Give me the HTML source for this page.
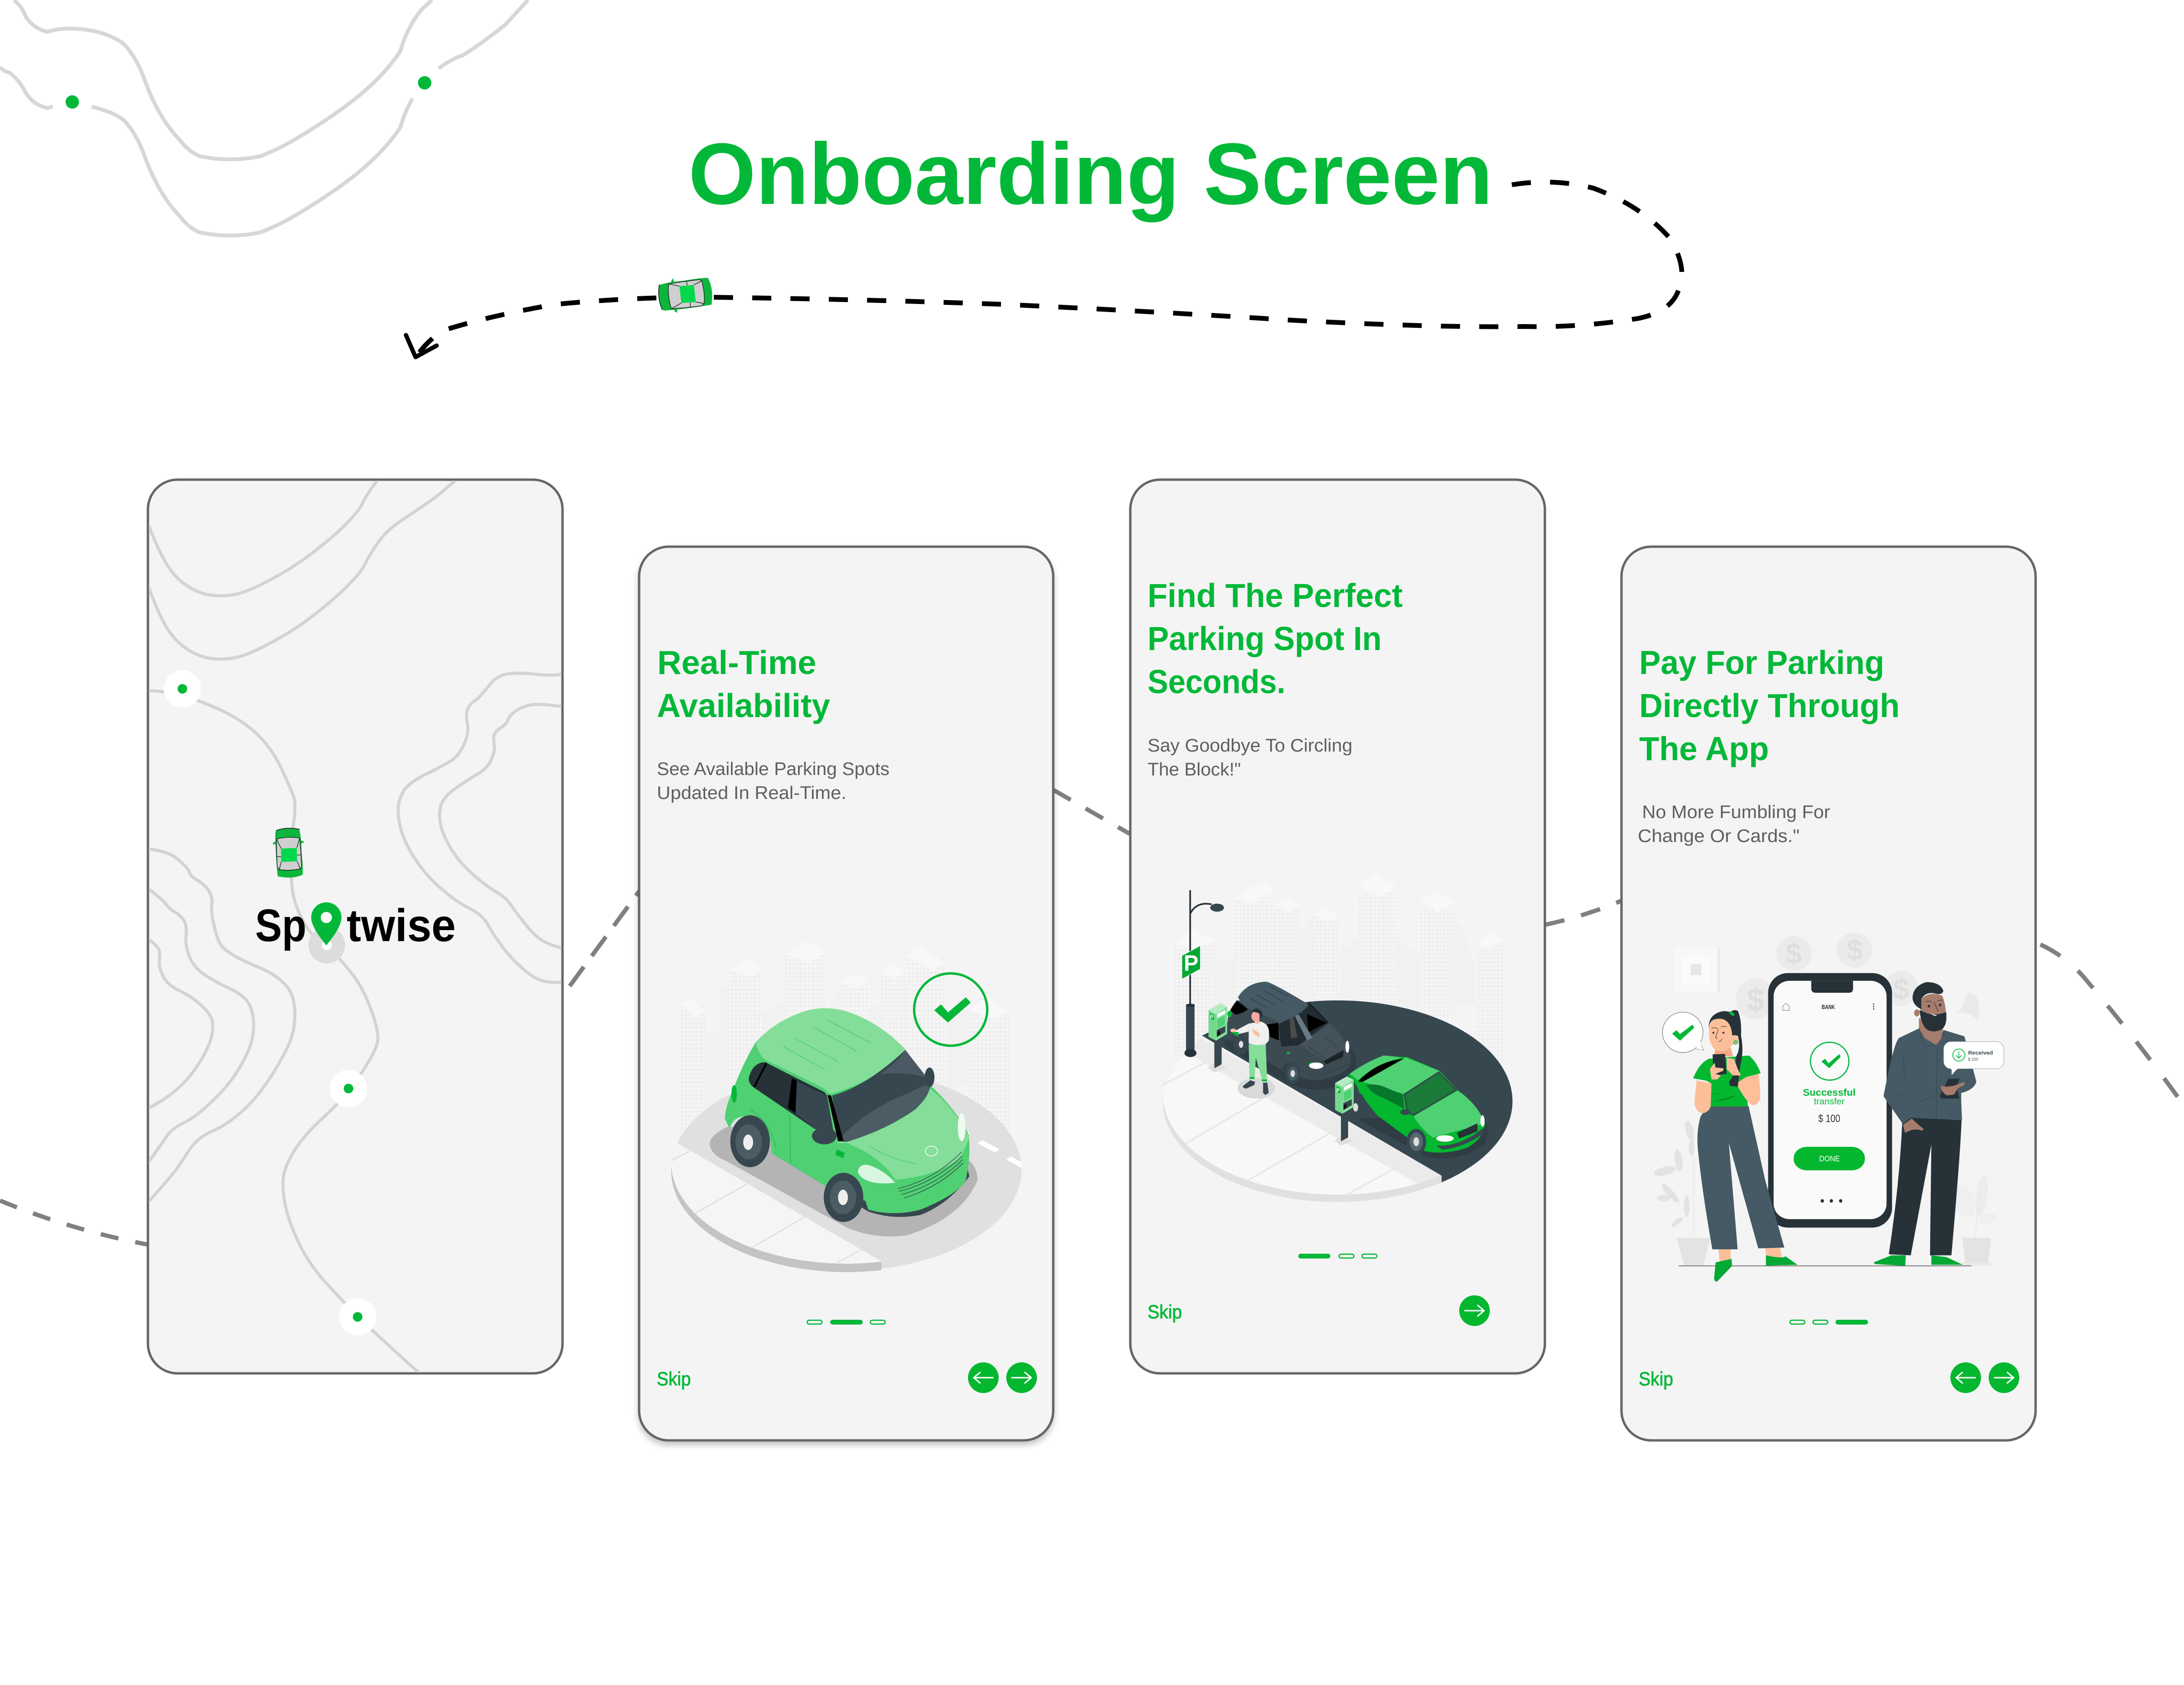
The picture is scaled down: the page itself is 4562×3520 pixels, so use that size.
<!DOCTYPE html>
<html lang="en">
<head>
<meta charset="utf-8">
<title>Onboarding Screen</title>
<style>
html,body{margin:0;padding:0;background:#fff;width:4562px;height:3520px;overflow:hidden}
svg{display:block}
svg *{vector-effect:non-scaling-stroke}
text{font-family:"Liberation Sans",sans-serif}
.h{font-weight:700;font-size:70px;fill:#03b838}
.p{font-size:38px;fill:#5f5f5f}
.skip{font-size:40px;fill:#03b838;stroke:#03b838;stroke-width:.9}
.map{fill:none;stroke:#d3d3d3;stroke-width:6.5;stroke-linecap:round}
.hl{fill:none;stroke:#d7d7d7;stroke-width:8}
.pill{fill:none;stroke:#03b838;stroke-width:2.5}
.arrow{fill:none;stroke:#fff;stroke-width:3;stroke-linecap:round;stroke-linejoin:round}
</style>
</head>
<body>
<svg xmlns="http://www.w3.org/2000/svg" width="4562" height="3520" viewBox="0 0 4562 3520">
<defs>
  <clipPath id="c1"><rect x="311" y="1004" width="862" height="1863" rx="60"/></clipPath>
  <filter id="sh" x="-5%" y="-5%" width="110%" height="110%"><feDropShadow dx="0" dy="8" stdDeviation="6" flood-color="#000" flood-opacity=".22"/></filter>
  <pattern id="win" patternUnits="userSpaceOnUse" width="14" height="12"><rect width="14" height="12" fill="#f0f0f0"/><rect x="3" y="3" width="8" height="6" fill="#f9f9f9"/></pattern>
  <g id="car">
    <path d="M207 250 Q215 232 235 232 L235 252 Z M408 240 Q395 225 380 228 L382 245 Z" fill="#0bb53c"/>
    <path d="M230 165 Q300 140 375 158 Q388 200 390 300 Q400 400 397 442 Q330 472 240 452 Q225 300 225 180 Z" fill="#0cb63c"/>
    <path d="M230 165 Q300 140 378 158" fill="none" stroke="#222" stroke-width="1.6"/>
    <path d="M233 218 Q305 200 378 212 L385 300 L390 395 L382 405 Q310 420 250 410 L237 392 L233 300 Z" fill="#cfcfcf" stroke="#111" stroke-width="1.2"/>
    <path d="M262 278 L360 274 L362 358 L262 362 Z" fill="#02d84b"/>
    <path d="M233 218 L262 278 M378 212 L360 274 M250 410 L262 362 M382 405 L362 358 M235 328 L262 330 M362 320 L388 316" fill="none" stroke="#111" stroke-width="1.2"/>
  </g>
  <g id="mach">
    <polygon points="110,430 155,410 155,580 110,605" fill="#37474f"/>
    <polygon points="68,600 110,572 190,600 110,632" fill="#dfdfdf"/>
    <polygon points="110,440 155,415 155,580 110,605" fill="#37474f"/>
    <polygon points="73,240 120,265 120,432 73,408" fill="#74d98c"/>
    <polygon points="73,240 148,197 190,220 120,265" fill="#b4ecc2"/>
    <polygon points="120,265 190,220 190,390 120,432" fill="#84de99"/>
    <polygon points="82,258 107,270 107,305 82,293" fill="#03b838"/>
    <polygon points="128,265 178,240 178,262 128,288" fill="#fff"/>
    <polygon points="128,298 175,275 175,330 128,355" fill="#4fd072"/>
    <polygon points="125,365 178,340 178,378 125,410" fill="#37474f"/>
    <polygon points="128,378 145,370 145,395 128,403" fill="#111"/>
  </g>
</defs>

<rect width="4562" height="3520" fill="#fff"/>

<!-- top-left map lines -->
<g transform="scale(1.4668 .5102)">
  <path class="hl" d="M20 0 Q32 30 36 65 Q48 120 68 130 Q95 105 135 128 Q165 150 178 185 Q195 240 205 320 Q225 480 255 570 Q270 625 285 640 Q328 665 370 640 Q410 600 480 460 Q540 340 570 210 Q580 110 600 40 L615 0"/>
  <path class="hl" d="M0 275 Q5 292 14 298 Q28 330 36 377 Q48 432 68 442 Q95 417 135 440 Q165 462 178 497 Q195 552 205 632 Q225 792 255 882 Q270 937 285 952 Q328 977 370 952 Q410 912 480 772 Q540 652 570 522 Q580 422 600 352 Q615 300 632 265 Q645 240 660 225 Q690 170 720 100 L752 0"/>
</g>
<circle cx="151" cy="213" r="42" fill="#fff"/><circle cx="151" cy="213" r="14" fill="#03b838"/>
<circle cx="887" cy="173" r="42" fill="#fff"/><circle cx="887" cy="173" r="14" fill="#03b838"/>

<!-- title -->
<text x="1438" y="426" font-size="182" font-weight="700" fill="#03b838" textLength="1680" lengthAdjust="spacingAndGlyphs">Onboarding Screen</text>

<!-- black dashed arrow -->
<path d="M3158 386 Q3245 372 3328 393 Q3430 430 3490 500 Q3524 560 3508 600 Q3495 650 3423 665 Q3300 685 3183 682 Q3000 685 2700 669 Q2400 650 2100 636 Q1800 625 1487 621 Q1320 620 1159 636 Q1020 660 924 691 Q890 715 872 742" fill="none" stroke="#000" stroke-width="10" stroke-dasharray="40 40"/>
<path d="M848 700 L868 746 L912 722" fill="none" stroke="#000" stroke-width="9" stroke-linejoin="round" stroke-linecap="round"/>
<use href="#car" transform="translate(1430 617) rotate(-94) scale(.36) translate(-305 -300)"/>

<!-- grey connectors -->
<g fill="none" stroke="#808080" stroke-width="9" stroke-dasharray="38 36">
  <path d="M0 2508 Q150 2570 309 2600"/>
  <path d="M1190 2060 L1335 1862" stroke-dasharray="50 28"/>
  <path d="M2200 1650 L2360 1742" stroke-dasharray="42 36"/>
  <path d="M3227 1932 Q3310 1914 3386 1882" stroke-dasharray="42 36"/>
  <path d="M4262 1973 Q4320 2000 4360 2050 Q4470 2180 4562 2310" stroke-dasharray="48 48"/>
</g>

<!-- CARD 1 -->
<rect x="309" y="1002" width="866" height="1867" rx="62" fill="#f4f4f4" stroke="#666" stroke-width="5"/>
<g clip-path="url(#c1)">
<g transform="translate(280 980) scale(.6059 1.2245)">
  <path class="map" d="M50 95 Q80 135 110 160 Q140 185 180 198 Q220 212 265 215 Q310 218 355 213 Q400 208 480 186 Q560 165 630 137 Q700 110 740 89 Q780 68 790 56 Q800 45 840 18"/>
  <path class="map" d="M50 200 Q80 243 110 268 Q140 293 180 306 Q220 320 265 323 Q310 326 355 321 Q400 316 480 294 Q560 273 630 245 Q700 218 742 196 Q785 175 797 161 Q810 148 840 126 Q870 105 915 90 Q960 75 1005 60 Q1050 45 1110 18"/>
  <path class="map" d="M50 378 Q100 378 165 386 Q230 395 307 413 Q385 432 432 456 Q480 480 512 515 Q545 550 552 562 Q558 575 551 600 Q545 625 542 662 Q540 700 547 722 Q555 745 582 770 Q610 795 637 805 Q665 815 687 825 Q710 835 750 860 Q790 885 817 922 Q845 960 840 975 Q835 990 807 1012 Q780 1035 740 1060 Q700 1085 640 1112 Q580 1140 550 1165 Q520 1190 515 1207 Q510 1225 520 1252 Q530 1280 565 1317 Q600 1355 665 1390 Q730 1425 770 1445 Q810 1465 985 1543"/>
  <path class="map" d="M1475 350 Q1440 353 1385 350 Q1330 347 1292 349 Q1255 352 1235 363 Q1215 375 1202 382 Q1190 390 1170 397 Q1150 405 1147 415 Q1145 425 1150 437 Q1155 450 1137 470 Q1120 490 1085 500 Q1050 510 1000 522 Q950 535 932 547 Q915 560 911 575 Q908 590 919 612 Q930 635 965 662 Q1000 690 1055 714 Q1110 738 1155 749 Q1200 760 1220 777 Q1240 795 1270 815 Q1300 835 1340 852 Q1380 870 1410 873 Q1440 877 1475 875"/>
  <path class="map" d="M1475 405 Q1400 400 1370 402 Q1340 405 1317 412 Q1295 420 1290 427 Q1285 435 1262 442 Q1240 450 1240 457 Q1240 465 1242 472 Q1245 480 1232 495 Q1220 510 1185 520 Q1150 530 1107 545 Q1065 560 1057 575 Q1050 590 1057 607 Q1065 625 1092 647 Q1120 670 1165 690 Q1210 710 1245 720 Q1280 730 1297 742 Q1315 755 1342 772 Q1370 790 1395 800 Q1420 810 1475 817"/>
  <path class="map" d="M50 648 Q120 652 152 666 Q185 680 190 687 Q195 695 217 701 Q240 707 256 718 Q272 730 268 742 Q265 755 275 777 Q285 800 297 810 Q310 820 345 830 Q380 840 430 850 Q480 860 512 875 Q545 890 551 910 Q558 930 551 952 Q545 975 507 1007 Q470 1040 435 1062 Q400 1085 357 1102 Q315 1120 267 1130 Q220 1140 190 1162 Q160 1185 145 1195 Q130 1205 50 1250"/>
  <path class="map" d="M50 716 Q100 735 110 742 Q120 750 145 757 Q170 765 176 775 Q183 785 179 797 Q175 810 190 830 Q205 850 242 862 Q280 875 325 885 Q370 895 389 907 Q408 920 411 937 Q415 955 407 972 Q400 990 365 1020 Q330 1050 272 1077 Q215 1105 172 1115 Q130 1125 110 1140 Q90 1155 50 1182"/>
  <path class="map" d="M50 802 Q85 815 87 822 Q90 830 87 840 Q85 850 100 865 Q115 880 157 890 Q200 900 232 915 Q265 930 270 942 Q275 955 265 972 Q255 990 222 1015 Q190 1040 150 1057 Q110 1075 50 1090"/>
</g>
<circle cx="381" cy="1439" r="39" fill="#fff"/><circle cx="381" cy="1439" r="10" fill="#03b838"/>
<circle cx="728" cy="2274" r="39" fill="#fff"/><circle cx="728" cy="2274" r="10" fill="#03b838"/>
<circle cx="747" cy="2751" r="39" fill="#fff"/><circle cx="747" cy="2751" r="10" fill="#03b838"/>
</g>
<use href="#car" transform="translate(500 1680) scale(.3333)"/>
<g transform="translate(500 1680) scale(.3333)">
  <circle cx="548" cy="883" r="115" fill="#dcdcdc"/>
  <circle cx="548" cy="883" r="31" fill="#fff"/>
  <path d="M545 885 Q450 770 450 710 A95 95 0 0 1 640 710 Q640 770 545 885 Z" fill="#03b838"/>
  <circle cx="545" cy="710" r="35" fill="#fff"/>
</g>
<text x="533" y="1966" font-size="96" font-weight="700" fill="#000" textLength="107" lengthAdjust="spacingAndGlyphs">Sp</text>
<text x="724" y="1966" font-size="96" font-weight="700" fill="#000" textLength="228" lengthAdjust="spacingAndGlyphs">twise</text>

<!-- CARD 2 -->
<rect x="1335" y="1142" width="865" height="1867" rx="62" fill="#f4f4f4" stroke="#666" stroke-width="5" filter="url(#sh)"/>
<text class="h" x="1373" y="1408" textLength="332" lengthAdjust="spacingAndGlyphs">Real-Time</text>
<text class="h" x="1372" y="1498" textLength="362" lengthAdjust="spacingAndGlyphs">Availability</text>
<text class="p" x="1372" y="1619" textLength="486" lengthAdjust="spacingAndGlyphs">See Available Parking Spots</text>
<text class="p" x="1372" y="1669" textLength="396" lengthAdjust="spacingAndGlyphs">Updated In Real-Time.</text>

<g transform="translate(1320 1900) scale(.574 .7334)">
  <polygon points="272,360 320,340 320,230 355,212 475,300 525,265 560,280 700,300 762,230 860,285 908,265 908,180 995,210 1145,330 1225,285 1225,500 272,650" fill="#f1f1f1"/>
  <g fill="url(#win)">
    <rect x="170" y="275" width="102" height="380"/><rect x="355" y="165" width="120" height="370"/><rect x="558" y="120" width="144" height="200"/><rect x="762" y="205" width="100" height="120"/><rect x="908" y="175" width="87" height="220"/><rect x="1000" y="140" width="145" height="370"/><rect x="1225" y="285" width="150" height="340"/>
  </g>
  <g fill="#f8f8f8">
    <polygon points="170,268 210,255 272,290 235,305"/><polygon points="355,170 415,138 475,172 420,192"/><polygon points="558,125 635,88 702,125 640,150"/><polygon points="762,208 815,180 862,205 812,225"/><polygon points="908,178 955,155 995,178 950,195"/><polygon points="1000,130 1050,108 1145,152 1095,175"/><polygon points="1225,285 1290,250 1375,290 1310,312"/>
  </g>
  <path d="M165 665 A638 288 0 0 1 1418 740 A638 288 0 0 1 908 1023 L908 1002 Z" fill="#e0e0e0"/>
  <path d="M143 718 L210 688 L908 1003 A638 288 0 0 1 143 718 Z" fill="#f5f5f5"/>
  <path d="M143 718 L143 740 A638 288 0 0 0 908 1027 L908 1003 A638 288 0 0 1 143 718 Z" fill="#c4c4c4"/>
  <path d="M145 715 L210 688 M232 865 L418 782 M438 962 L628 876 M750 1005 L835 968" stroke="#dfdfdf" stroke-width="2.5" fill="none"/>
  <path d="M345 620 Q280 645 283 670 Q290 700 340 715 L780 905 Q880 940 1000 928 Q1200 880 1258 770 Q1255 730 1225 715 L800 600 Z" fill="#b4b4b4"/>
  <g fill="#fff"><polygon points="1275,657 1337,683 1322,692 1258,666"/><polygon points="1380,703 1418,720 1418,736 1362,713"/><polygon points="1215,630 1232,637 1220,642"/></g>
  <!-- car body -->
  <path d="M510 695 L700 785 L860 860 Q950 885 1050 870 Q1150 840 1228 760 L1215 720 L700 700 Z" fill="#37474f"/>
  <path d="M338 595 Q340 560 370 510 Q400 445 450 378 L995 400 L1085 500 Q1180 570 1225 640 Q1235 700 1215 770 Q1190 810 1050 855 Q950 875 860 855 L850 830 L700 785 L510 695 L505 660 Q470 590 400 590 Q365 595 355 625 Z" fill="#4fd072"/>
  <path d="M740 665 Q950 620 1085 510 Q1180 570 1228 650 L1195 710 Q1100 760 960 770 Q900 700 780 665 Z" fill="#84de99"/>
  <path d="M450 378 Q520 320 610 295 Q690 270 780 290 Q900 320 995 398 Q960 440 890 470 Q800 510 720 525 L700 510 Q600 470 490 430 Q460 415 450 378 Z" fill="#84de99"/>
  <path d="M550 390 L700 455 M590 365 L750 433 M660 335 L820 405 M710 315 L870 380" stroke="#4fd072" stroke-width="1.6" fill="none"/>
  <path d="M425 480 Q440 435 485 435 L700 520 L710 530 L735 640 L665 625 L440 505 Q425 495 425 480 Z" fill="#263238"/>
  <path d="M600 490 L710 530 L735 640 L665 625 L595 580 Z" fill="#37474f"/>
  <path d="M728 530 Q850 505 995 400 L1085 495 Q1085 530 1030 570 Q920 630 780 662 L760 660 Q745 600 728 530 Z" fill="#37474f"/>
  <path d="M760 650 Q850 570 1015 520 Q1060 500 1085 500 Q1085 530 1030 570 Q920 630 780 662 Z" fill="#4c5c65"/>
  <path d="M900 470 Q960 440 995 400 L1075 480 Q1000 460 900 470 Z" fill="#4a5963"/>
  <polygon points="582,480 600,488 595,580 568,565" fill="#000"/>
  <polygon points="712,528 725,530 770,660 750,660" fill="#000"/>
  <path d="M490 437 L445 505" stroke="#000" stroke-width="4" fill="none"/>
  <ellipse cx="700" cy="645" rx="45" ry="24" fill="#37474f"/>
  <ellipse cx="1083" cy="478" rx="18" ry="28" fill="#37474f"/>
  <ellipse cx="372" cy="525" rx="10" ry="25" fill="#03b838"/>
  <path d="M575 585 L577 725 M430 570 Q500 600 525 680" stroke="#3db862" stroke-width="2" fill="none"/>
  <rect x="742" y="688" width="30" height="16" fill="#03b838" transform="rotate(18 757 697)"/>
  <ellipse cx="430" cy="660" rx="72" ry="74" fill="#37474f"/><ellipse cx="425" cy="662" rx="48" ry="50" fill="#4c5c65"/><ellipse cx="423" cy="663" rx="18" ry="22" fill="#eee"/>
  <ellipse cx="770" cy="820" rx="72" ry="70" fill="#37474f"/><ellipse cx="768" cy="820" rx="48" ry="48" fill="#4c5c65"/><ellipse cx="768" cy="820" rx="18" ry="22" fill="#eee"/>
  <path d="M822 745 Q830 720 870 730 Q920 745 958 778 Q890 785 850 770 Q825 760 822 745 Z" fill="#d7f7e0"/>
  <ellipse cx="1200" cy="620" rx="14" ry="40" fill="#eefbf1"/>
  <path d="M968 795 Q1100 770 1200 690 M972 803 Q1100 778 1202 702 M980 812 Q1110 785 1204 712 M990 822 Q1120 790 1205 722" stroke="#37474f" stroke-width="1.3" fill="none"/>
  <ellipse cx="1090" cy="688" rx="22" ry="14" fill="none" stroke="#fff" stroke-width="1.5"/>
  <path d="M860 672 Q950 715 1040 725" stroke="#4fd072" stroke-width="1.5" fill="none"/>
  <ellipse cx="1160" cy="285" rx="133" ry="103" fill="none" stroke="#03b838" stroke-width="5"/>
  <polygon points="1100,287 1125,270 1150,293 1215,250 1233,265 1150,322" fill="#03b838"/>
</g>
<rect class="pill" x="1686" y="2758" width="31" height="8" rx="4"/>
<rect x="1734" y="2757" width="68" height="10" rx="5" fill="#03b838"/>
<rect class="pill" x="1818" y="2758" width="31" height="8" rx="4"/>
<text class="skip" x="1372" y="2894" textLength="71" lengthAdjust="spacingAndGlyphs">Skip</text>
<circle cx="2054" cy="2878" r="32" fill="#03b72f"/><path class="arrow" d="M2074 2878 H2034 M2047 2867 L2034 2878 L2047 2889"/>
<circle cx="2134" cy="2878" r="32" fill="#03b72f"/><path class="arrow" d="M2114 2878 H2154 M2141 2867 L2154 2878 L2141 2889"/>

<!-- CARD 3 -->
<rect x="2361" y="1002" width="866" height="1867" rx="62" fill="#f4f4f4" stroke="#666" stroke-width="5"/>
<text class="h" x="2397" y="1268" textLength="533" lengthAdjust="spacingAndGlyphs">Find The Perfect</text>
<text class="h" x="2397" y="1358" textLength="489" lengthAdjust="spacingAndGlyphs">Parking Spot In</text>
<text class="h" x="2397" y="1448" textLength="288" lengthAdjust="spacingAndGlyphs">Seconds.</text>
<text class="p" x="2397" y="1570" textLength="428" lengthAdjust="spacingAndGlyphs">Say Goodbye To Circling</text>
<text class="p" x="2397" y="1620" textLength="195" lengthAdjust="spacingAndGlyphs">The Block!"</text>

<g transform="translate(2350 1800) scale(.574 .7015)">
  <polygon points="325,300 400,290 400,120 545,130 635,230 682,160 782,270 845,230 845,100 988,230 1072,280 1195,170 1230,200 1275,320 1275,420 325,560" fill="#f1f1f1"/>
  <g fill="url(#win)">
    <rect x="175" y="245" width="150" height="345"/><rect x="400" y="110" width="145" height="300"/><rect x="550" y="140" width="85" height="250"/><rect x="682" y="165" width="100" height="240"/><rect x="845" y="90" width="143" height="330"/><rect x="1072" y="135" width="123" height="330"/><rect x="1275" y="250" width="103" height="350"/>
  </g>
  <g fill="#f8f8f8">
    <polygon points="175,245 245,200 325,235 255,262"/><polygon points="400,110 495,57 545,85 460,125"/><polygon points="550,125 595,105 635,132 592,150"/><polygon points="682,155 725,135 782,165 738,180"/><polygon points="845,70 910,35 988,75 925,105"/><polygon points="1072,115 1130,88 1195,120 1135,150"/><polygon points="1275,245 1335,210 1378,235 1320,260"/>
  </g>
  <path d="M137 690 Q160 620 225 570 L275 530 L1152 935 A637 300 0 0 1 137 690 Z" fill="#f8f8f8"/>
  <polygon points="275,525 1152,935 1152,958 1085,968 225,570" fill="#ebebeb"/>
  <path d="M137 690 L137 712 A637 300 0 0 0 1152 955 L1152 933 A637 300 0 0 1 137 690 Z" fill="#e0e0e0"/>
  <path d="M137 665 L320 585 M220 840 L510 700 M445 950 L775 795 M805 993 L1000 905" stroke="#e8e8e8" stroke-width="3.5" fill="none"/>
  <path d="M280 518 L400 470 A637 300 0 0 1 1410 712 A637 300 0 0 1 1152 955 L1152 935 Z" fill="#37474f"/>
  <!-- lamp -->
  <path d="M237 85 V430 M237 155 Q260 118 315 127" fill="none" stroke="#263238" stroke-width="3.5"/>
  <ellipse cx="335" cy="137" rx="25" ry="12" fill="#37474f"/>
  <rect x="222" y="425" width="31" height="140" fill="#37474f"/><ellipse cx="238" cy="428" rx="16" ry="5" fill="#263238"/><ellipse cx="238" cy="570" rx="22" ry="12" fill="#263238"/>
  <polygon points="207,280 274,250 274,320 207,350" fill="#03a934" stroke="#fff" stroke-width="1"/>
</g>

<!-- street scene in 3x crop coordinates -->
<g transform="translate(2500 2030) scale(.33333)">
  <!-- dark car -->
  <path d="M170 440 Q180 480 250 510 L560 690 Q680 760 850 730 Q1000 680 1000 560 Q990 500 960 480 L500 300 Z" fill="#2f3c44"/>
  <path d="M195 290 Q200 240 250 180 L700 195 L830 315 Q920 390 945 470 Q975 530 960 590 Q900 660 760 680 Q680 680 650 660 Q620 570 570 570 Q540 580 540 620 L320 490 Q300 410 250 400 Q225 400 225 440 L180 410 Z" fill="#3c4a52"/>
  <path d="M640 460 L830 330 Q920 400 945 490 Q880 520 800 560 Q720 500 640 460 Z" fill="#44525a"/>
  <path d="M250 180 L320 235 Q280 265 240 268 L210 240 Z" fill="#000"/>
  <path d="M440 330 L510 320 L515 430 L460 410 Z" fill="#000"/>
  <path d="M510 335 L700 195 L825 320 L640 460 L530 470 Z" fill="#222d33"/>
  <path d="M690 265 L815 320 L700 380 Z" fill="#000"/>
  <path d="M610 270 L640 270 L725 415 L690 430 Z" fill="#6b7a82"/>
  <path d="M580 285 L605 280 L630 410 L590 420 Z" fill="#4d4a49"/>
  <path d="M700 195 L825 320" stroke="#111" stroke-width="2" fill="none"/>
  <path d="M258 160 Q310 70 430 62 Q470 65 700 205 Q660 270 520 320 Q440 280 370 250 Q280 210 258 160 Z" fill="#455a64"/>
  <path d="M335 165 L450 230 M375 145 L495 210 M420 118 L535 185 M460 95 L570 155 M800 405 Q850 440 880 480 M700 470 Q760 510 800 540 M780 640 Q880 630 960 570" stroke="#2f3c44" stroke-width="1.3" fill="none"/>
  <path d="M795 560 L920 490 L915 535 L810 580 Z" fill="#1b2428"/>
  <ellipse cx="720" cy="582" rx="20" ry="15" fill="#03b838"/><ellipse cx="748" cy="589" rx="45" ry="20" fill="#fff"/>
  <ellipse cx="943" cy="470" rx="12" ry="38" fill="#fff"/>
  <ellipse cx="205" cy="265" rx="14" ry="20" fill="#03b838"/>
  <rect x="564" y="502" width="20" height="14" fill="#03b838"/>
  <ellipse cx="275" cy="455" rx="48" ry="65" fill="#37474f"/><ellipse cx="277" cy="455" rx="14" ry="22" fill="#ddd"/>
  <ellipse cx="600" cy="638" rx="48" ry="68" fill="#37474f"/><ellipse cx="602" cy="638" rx="30" ry="45" fill="#455a64"/><ellipse cx="601" cy="638" rx="14" ry="22" fill="#ddd"/>
  <!-- machine 1 -->
  <use href="#mach"/>
  <!-- person -->
  <ellipse cx="373" cy="730" rx="118" ry="65" fill="#d9d9d9"/>
  <path d="M325 455 L432 455 L440 680 L408 680 L370 540 L362 670 L330 670 Z" fill="#84de99"/>
  <rect x="330" y="660" width="32" height="12" fill="#03b838"/><rect x="408" y="675" width="32" height="12" fill="#03b838"/>
  <path d="M290 715 L335 680 L365 690 L360 710 L310 732 Q285 730 290 715 Z M415 695 L442 695 L450 760 L430 772 L415 760 Z" fill="#37474f"/>
  <path d="M325 325 L400 312 Q445 325 452 370 L452 430 L430 455 Q380 465 325 450 Z" fill="#f0f0f0"/>
  <path d="M325 325 L240 370 L245 395 L325 375 Z" fill="#f0f0f0"/>
  <ellipse cx="228" cy="368" rx="18" ry="12" fill="#f9bfa5"/>
  <polygon points="215,378 262,378 258,410" fill="#03b838"/>
  <path d="M345 355 L395 385 L390 410 L355 390 Z" fill="#f9bfa5"/>
  <rect x="362" y="295" width="30" height="30" fill="#f9bfa5"/>
  <ellipse cx="368" cy="280" rx="26" ry="32" fill="#f8a8a0"/>
  <path d="M345 250 Q355 225 385 232 Q412 245 410 270 Q405 290 395 290 L392 262 Q370 252 345 250 Z" fill="#263238"/>
  <!-- green car -->
  <path d="M1000 920 L1440 1160 Q1650 1200 1800 1080 Q1840 1020 1810 950 L1500 900 Z" fill="#2f3c44"/>
  <path d="M945 650 Q1000 600 1100 560 Q1200 525 1320 535 L1520 620 L1634 741 Q1760 830 1806 951 Q1800 1040 1700 1100 Q1560 1150 1430 1125 L1320 1040 L1130 900 L1020 760 Q1000 690 945 650 Z" fill="#03b72f"/>
  <path d="M960 640 Q1050 570 1170 525 Q1260 530 1280 540 Q1130 570 1010 680 Z" fill="#4fd072"/>
  <path d="M1010 688 Q1130 560 1300 545 Q1170 620 1040 690 Z" fill="#000"/>
  <path d="M1040 690 L1310 537 L1520 622 L1295 765 Z" fill="#4fd072"/>
  <path d="M1060 710 Q1120 700 1170 720 L1290 770 L1300 860 L1170 790 Q1100 770 1060 710 Z" fill="#06762a"/>
  <path d="M1300 770 L1515 630 L1625 741 L1358 899 L1320 880 Z" fill="#1a7a38" stroke="#37474f" stroke-width="3"/>
  <path d="M1358 905 L1634 745 Q1760 830 1806 951 L1620 1000 L1480 1040 Q1400 980 1358 905 Z" fill="#4fd072"/>
  <ellipse cx="1305" cy="880" rx="30" ry="18" fill="#37474f"/>
  <ellipse cx="1375" cy="1065" rx="62" ry="80" fill="#37474f"/><ellipse cx="1375" cy="1065" rx="42" ry="58" fill="#566870"/><ellipse cx="1375" cy="1065" rx="18" ry="28" fill="#ddd"/>
  <ellipse cx="1000" cy="840" rx="60" ry="85" fill="#37474f"/><ellipse cx="995" cy="850" rx="16" ry="26" fill="#ddd"/>
  <ellipse cx="1555" cy="1045" rx="55" ry="20" fill="#fff"/>
  <ellipse cx="1790" cy="935" rx="13" ry="36" fill="#fff"/>
  <polygon points="1630,1010 1758,950 1758,1000 1645,1045" fill="#263238"/>
  <path d="M1500 1090 Q1650 1100 1806 970 L1800 1010 Q1680 1100 1540 1115 Z" fill="#37474f"/>
  <!-- machine 2 -->
  <use href="#mach" transform="translate(793 458)"/>
</g>
<text x="2488" y="2028" font-size="46" font-weight="700" fill="#fff" text-anchor="middle">P</text>
<text x="2531" y="2128" font-size="11" font-weight="700" fill="#fff" text-anchor="middle">P</text>
<text x="2795" y="2281" font-size="11" font-weight="700" fill="#fff" text-anchor="middle">P</text>
<rect x="2712" y="2619" width="67" height="10" rx="5" fill="#03b838"/>
<rect class="pill" x="2797" y="2620" width="31" height="8" rx="4"/>
<rect class="pill" x="2845" y="2620" width="31" height="8" rx="4"/>
<text class="skip" x="2397" y="2754" textLength="72" lengthAdjust="spacingAndGlyphs">Skip</text>
<circle cx="3080" cy="2738" r="32" fill="#03b72f"/><path class="arrow" d="M3060 2738 H3100 M3087 2727 L3100 2738 L3087 2749"/>

<!-- CARD 4 -->
<rect x="3387" y="1142" width="865" height="1867" rx="62" fill="#f4f4f4" stroke="#666" stroke-width="5"/>
<text class="h" x="3424" y="1408" textLength="512" lengthAdjust="spacingAndGlyphs">Pay For Parking</text>
<text class="h" x="3424" y="1498" textLength="544" lengthAdjust="spacingAndGlyphs">Directly Through</text>
<text class="h" x="3424" y="1588" textLength="271" lengthAdjust="spacingAndGlyphs">The App</text>
<text class="p" x="3430" y="1709" textLength="393" lengthAdjust="spacingAndGlyphs">No More Fumbling For</text>
<text class="p" x="3421" y="1759" textLength="338" lengthAdjust="spacingAndGlyphs">Change Or Cards."</text>

<g transform="translate(3400 1900) scale(.574 .7334)">
  <rect x="170" y="107" width="165" height="128" fill="#f8f8f8"/><rect x="327" y="107" width="8" height="128" fill="#e9e9e9"/><rect x="192" y="125" width="113" height="93" fill="#fafafa" stroke="#f0f0f0"/><rect x="230" y="155" width="38" height="32" fill="#e6e6e6"/>
  <g fill="#ebebeb"><ellipse cx="605" cy="125" rx="65" ry="50"/><ellipse cx="825" cy="115" rx="65" ry="50"/><ellipse cx="465" cy="255" rx="72" ry="58"/><ellipse cx="995" cy="225" rx="62" ry="50"/></g>
  <path d="M1195 295 Q1225 280 1225 255 Q1240 225 1270 250 Q1285 280 1275 315 Q1240 290 1195 295 Z" fill="#e9e9e9"/>
</g>
<g font-weight="700" fill="#dedede" text-anchor="middle">
  <text x="3747" y="2013" font-size="60">$</text><text x="3874" y="2005" font-size="60">$</text><text x="3667" y="2111" font-size="66">$</text><text x="3971" y="2087" font-size="60">$</text>
</g>
<g transform="translate(3400 1900) scale(.574 .7334)">
  <!-- plants -->
  <g fill="#e3e3e3">
    <ellipse cx="225" cy="630" rx="14" ry="30" transform="rotate(-20 225 630)"/><ellipse cx="185" cy="715" rx="14" ry="32" transform="rotate(-10 185 715)"/><ellipse cx="232" cy="680" rx="10" ry="22"/>
    <ellipse cx="135" cy="745" rx="40" ry="12" transform="rotate(-10 135 745)"/><ellipse cx="155" cy="808" rx="40" ry="11" transform="rotate(40 155 808)"/>
    <ellipse cx="215" cy="845" rx="10" ry="30"/><ellipse cx="130" cy="822" rx="24" ry="9"/><ellipse cx="180" cy="890" rx="24" ry="8" transform="rotate(-30 180 890)"/>
    <polygon points="178,935 300,935 275,1015 205,1015"/><polygon points="1217,935 1322,935 1312,1005 1228,1005"/>
    <ellipse cx="1288" cy="815" rx="20" ry="60" transform="rotate(10 1288 815)" fill="#ececec"/><ellipse cx="1225" cy="830" rx="35" ry="50" transform="rotate(-30 1225 830)" fill="#efefef"/><ellipse cx="1310" cy="880" rx="35" ry="14" transform="rotate(-10 1310 880)" fill="#efefef"/>
  </g>
  <path d="M240 640 V930 M1265 935 Q1270 860 1285 800" stroke="#e5e5e5" stroke-width="1.5" fill="none"/>
  <rect x="1217" y="1005" width="105" height="10" fill="#eaeaea"/>
  <path d="M185 1015 H1250" stroke="#666" stroke-width="1.6" fill="none"/>
  <!-- phone -->
  <rect x="511" y="181" width="451" height="725" rx="72" ry="56" fill="#263238"/>
  <rect x="531" y="203" width="411" height="679" rx="58" ry="44" fill="#fafafa"/>
  <path d="M668 203 H820 V225 Q820 237 806 237 H684 Q668 237 668 225 Z" fill="#263238"/>
  <ellipse cx="735" cy="432" rx="70" ry="54" fill="none" stroke="#03b838" stroke-width="2.5"/>
  <polygon points="705,433 718,425 731,438 770,412 775,420 733,452" fill="#03b838"/>
  <rect x="604" y="676" width="259" height="67" rx="48" ry="32" fill="#03b72f"/>
  <ellipse cx="708" cy="830" rx="6" ry="5" fill="#263238"/><ellipse cx="741" cy="830" rx="6" ry="5" fill="#263238"/><ellipse cx="775" cy="830" rx="6" ry="5" fill="#263238"/>
  <path d="M564 276 L576 267 L588 276 V287 H564 Z" fill="none" stroke="#777" stroke-width="1"/>
  <path d="M895 269 V270 M895 276 V277 M895 283 V284" stroke="#263238" stroke-width="2.4" stroke-linecap="round" fill="none"/>
  <!-- woman lower -->
  <polygon points="330,968 375,968 375,1005 335,1005" fill="#fcbf9a"/>
  <polygon points="500,960 553,960 562,992 505,992" fill="#fcbf9a"/>
  <path d="M320 1005 L378 995 L380 1015 L325 1060 Q312 1060 315 1045 Z" fill="#03a934"/>
  <path d="M503 985 Q560 995 575 988 L618 1012 L503 1014 Z" fill="#03a934"/>
  <path d="M265 590 Q250 630 255 680 Q270 800 308 968 L400 968 L368 665 L475 965 L570 963 L500 770 L440 560 L290 560 Z" fill="#455a64"/>
  <!-- man lower -->
  <path d="M895 1005 L960 985 L1012 985 L1010 1015 L900 1010 Z" fill="#03a934"/>
  <path d="M1105 985 L1160 990 L1220 1012 L1105 1012 Z" fill="#03a934"/>
  <path d="M1000 590 L1215 600 Q1210 700 1178 985 L1100 985 L1105 670 L1030 985 L950 982 Q990 780 1000 590 Z" fill="#263238"/>
</g>
<!-- woman upper -->
<g transform="translate(3440 2030) scale(.33333)">
  <ellipse cx="225" cy="380" rx="127" ry="127" fill="#fff" stroke="#666" stroke-width="1"/>
  <path d="M333 450 L358 492 L300 482 Z" fill="#fff" stroke="#888" stroke-width=".8"/>
  <path d="M300 470 L335 440 L340 470 Z" fill="#fff"/>
  <polygon points="158,388 185,366 208,390 285,332 298,350 208,432" fill="#03b838"/>
  <path d="M312 680 Q300 780 298 830 Q310 880 350 888 Q395 875 400 840 L405 700 Z" fill="#fcbf9a"/>
  <path d="M430 480 L520 460 L540 530 L420 530 Z" fill="#f5a982"/>
  <path d="M290 668 Q330 570 390 545 L640 525 Q685 560 713 635 L625 665 L633 845 L400 845 L405 700 L370 682 Z" fill="#03b72f"/>
  <path d="M415 760 Q445 775 470 765 Q440 775 415 760 Z M435 810 L560 775 Q500 805 435 810 Z" fill="#028a24" stroke="#028a24" stroke-width="1"/>
  <path d="M620 660 L700 640 Q712 720 710 800 Q690 840 660 835 Q620 815 560 700 Z" fill="#fcbf9a"/>
  <path d="M388 350 Q385 270 470 248 Q510 245 520 255 Q545 232 570 245 Q595 300 590 400 Q610 500 585 590 L570 720 L520 715 L515 690 L548 640 L560 530 Q590 480 570 400 L535 400 Q530 330 470 300 Q420 300 388 350 Z" fill="#263238"/>
  <path d="M390 340 Q395 290 470 295 Q530 310 535 400 Q570 390 572 420 Q565 460 530 460 Q500 510 440 495 Q395 470 390 400 Z" fill="#fcbf9a"/>
  <ellipse cx="532" cy="262" rx="20" ry="10" transform="rotate(35 532 262)" fill="#03b838"/>
  <circle cx="558" cy="442" r="10" fill="none" stroke="#03b838" stroke-width="2"/>
  <circle cx="417" cy="382" r="6" fill="#263238"/><circle cx="480" cy="382" r="6" fill="#263238"/>
  <path d="M405 355 Q425 345 445 358 M465 345 Q480 340 500 345 M448 360 L430 412 L445 418 M450 435 Q465 440 470 420" fill="none" stroke="#263238" stroke-width="1"/>
  <path d="M412 518 L490 515 L500 640 L430 650 L415 600 Z" fill="#263238"/>
  <path d="M395 610 L425 570 L430 600 L480 605 L480 620 L430 640 L465 650 L440 675 L405 675 Z" fill="#fcbf9a"/>
  <path d="M500 540 L545 545 L570 610 L590 650 L540 650 L500 610 Z" fill="#fcbf9a"/>
</g>
<!-- man upper -->
<g transform="translate(3900 2030) scale(.33333)">
  <path d="M325 355 L200 415 Q165 450 103 780 L225 955 L275 915 L595 930 L590 810 L590 760 Q670 740 685 690 L610 405 L480 365 L435 460 Z" fill="#455a64"/>
  <path d="M325 290 L325 355 L360 415 L435 460 L470 420 L475 360 L470 330 Z" fill="#a67c6d"/>
  <path d="M325 355 L360 470 L435 460 L465 420 L480 365 M438 470 L435 920 M330 812 Q400 790 460 755 M228 530 L235 660 M185 765 L222 768" fill="none" stroke="#37474f" stroke-width="1"/>
  <ellipse cx="312" cy="258" rx="17" ry="22" fill="#a67c6d"/>
  <path d="M340 170 Q390 120 470 150 Q490 190 495 260 L490 320 L340 320 Q330 260 340 170 Z" fill="#a67c6d"/>
  <path d="M340 235 Q285 210 285 160 Q290 90 370 65 Q460 65 478 120 Q470 150 420 135 Q370 125 340 170 Z" fill="#263238"/>
  <path d="M328 240 Q370 260 410 270 Q470 265 495 252 Q505 330 470 360 Q420 385 380 365 Q340 340 328 240 Z" fill="#263238"/>
  <path d="M408 262 Q420 280 435 272" fill="none" stroke="#fff" stroke-width="1.6"/>
  <circle cx="388" cy="216" r="8" fill="#263238"/><circle cx="458" cy="208" r="8" fill="#263238"/>
  <path d="M366 190 Q385 178 405 190 M443 182 Q458 175 472 180 M420 190 L445 250" fill="none" stroke="#263238" stroke-width="1"/>
  <path d="M455 780 L510 670 L580 670 L560 720 L578 795 L465 795 Z" fill="#263238"/>
  <path d="M460 715 Q500 725 550 712 L610 690 L610 710 L570 730 L545 770 L500 775 Q470 760 460 715 Z" fill="#a67c6d"/>
  <path d="M225 960 L280 920 Q320 960 355 985 L345 997 Q300 975 238 1010 Z" fill="#a67c6d"/>
  <path d="M530 600 L530 648 L568 605 Z" fill="#fff"/>
  <rect x="480" y="438" width="377" height="170" rx="46" fill="#fff" stroke="#aaa" stroke-width="1"/>
  <rect x="525" y="600" width="42" height="12" fill="#fff"/>
  <circle cx="575" cy="522" r="38" fill="none" stroke="#03b838" stroke-width="1.6"/>
  <path d="M575 500 V540 M558 524 L575 541 L592 524" fill="none" stroke="#03b838" stroke-width="1.5"/>
</g>
<text x="3805" y="2108" font-size="13" font-weight="700" fill="#263238" textLength="28" lengthAdjust="spacingAndGlyphs">BANK</text>
<text x="3766" y="2289" font-size="20" font-weight="700" fill="#03b838" textLength="110" lengthAdjust="spacingAndGlyphs">Successful</text>
<text x="3789" y="2307" font-size="18" fill="#03b838" textLength="64" lengthAdjust="spacingAndGlyphs">transfer</text>
<text x="3798" y="2344" font-size="22" fill="#333" textLength="46" lengthAdjust="spacingAndGlyphs">$ 100</text>
<text x="3800" y="2426" font-size="17" fill="#fff" textLength="43" lengthAdjust="spacingAndGlyphs">DONE</text>
<text x="4111" y="2203" font-size="11" font-weight="700" fill="#37474f" textLength="52" lengthAdjust="spacingAndGlyphs">Received</text>
<text x="4111" y="2216" font-size="9" fill="#555" textLength="21" lengthAdjust="spacingAndGlyphs">$ 100</text>
<rect class="pill" x="3739" y="2758" width="31" height="8" rx="4"/>
<rect class="pill" x="3787" y="2758" width="31" height="8" rx="4"/>
<rect x="3834" y="2757" width="68" height="10" rx="5" fill="#03b838"/>
<text class="skip" x="3423" y="2894" textLength="72" lengthAdjust="spacingAndGlyphs">Skip</text>
<circle cx="4106" cy="2878" r="32" fill="#03b72f"/><path class="arrow" d="M4126 2878 H4086 M4099 2867 L4086 2878 L4099 2889"/>
<circle cx="4186" cy="2878" r="32" fill="#03b72f"/><path class="arrow" d="M4166 2878 H4206 M4193 2867 L4206 2878 L4193 2889"/>
</svg>
</body>
</html>
